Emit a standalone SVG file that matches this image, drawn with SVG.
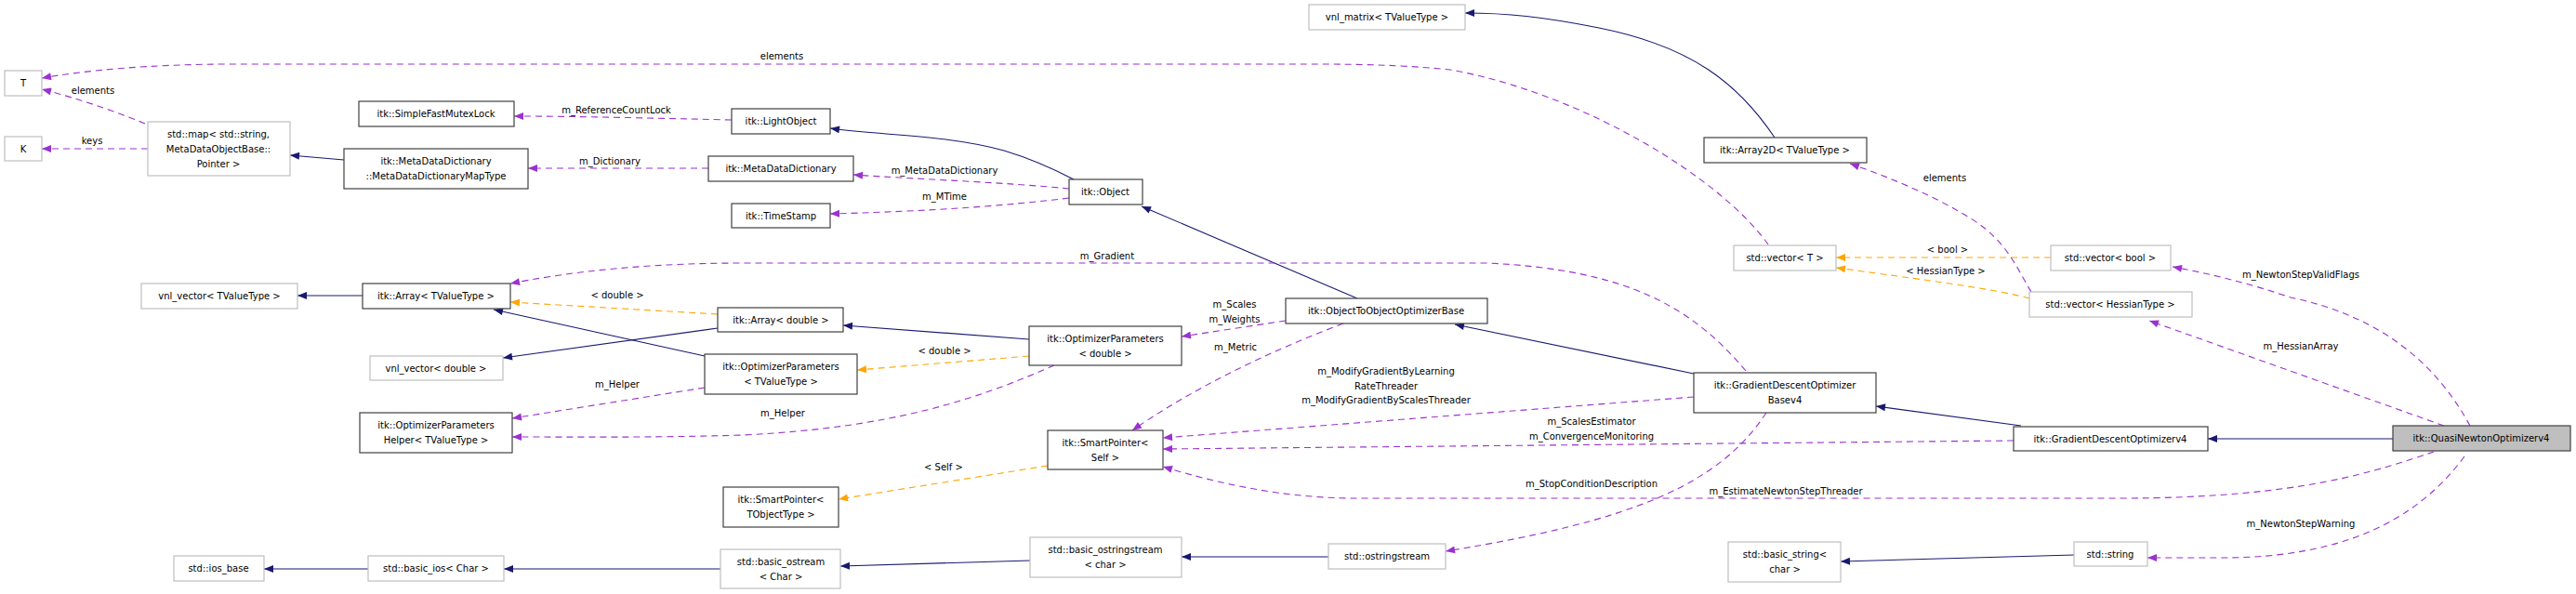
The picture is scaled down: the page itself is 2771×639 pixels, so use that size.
<svg xmlns="http://www.w3.org/2000/svg" width="2771" height="639" viewBox="0 0 2771 639">
<style>
text{font-family:"DejaVu Sans","Liberation Sans",sans-serif;font-size:10px;fill:#000;text-anchor:middle}
.b{fill:#fff;stroke:#404040;stroke-width:1.2}
.g{fill:#fff;stroke:#bfbfbf;stroke-width:1.2}
.q{fill:#bfbfbf;stroke:#404040;stroke-width:1.2}
.s{fill:none;stroke:#191970;stroke-width:1.1}
.p{fill:none;stroke:#9a32cd;stroke-width:1.1;stroke-dasharray:7,5}
.o{fill:none;stroke:#ffa500;stroke-width:1.1;stroke-dasharray:7,5}
</style>
<defs>
<marker id="ms" viewBox="0 0 10 8" refX="10" refY="4" markerWidth="11" markerHeight="8" markerUnits="userSpaceOnUse" orient="auto"><path d="M0,0L10,4L0,8z" fill="#191970"/></marker>
<marker id="mp" viewBox="0 0 10 8" refX="10" refY="4" markerWidth="11" markerHeight="8" markerUnits="userSpaceOnUse" orient="auto"><path d="M0,0L10,4L0,8z" fill="#9a32cd"/></marker>
<marker id="mo" viewBox="0 0 10 8" refX="10" refY="4" markerWidth="11" markerHeight="8" markerUnits="userSpaceOnUse" orient="auto"><path d="M0,0L10,4L0,8z" fill="#ffa500"/></marker>
</defs>
<g id="edges">
<path class="p" marker-end="url(#mp)" d="M1902,263 C1850,190 1700,100 1560,75 C1500,69 1450,69 1400,69 L250,69 C160,69 90,76 45,84"/>
<path class="p" marker-end="url(#mp)" d="M156,133 C120,118 80,105 45,96"/>
<path class="p" marker-end="url(#mp)" d="M159,160 L45,160"/>
<path class="s" marker-end="url(#ms)" d="M370,172 L312,167"/>
<path class="p" marker-end="url(#mp)" d="M787,129 C700,127 620,125 553,125"/>
<path class="p" marker-end="url(#mp)" d="M762,181 L568,181"/>
<path class="s" marker-end="url(#ms)" d="M1155,193 C1130,180 1100,168 1080,162 C1020,145 950,146 893,138"/>
<path class="p" marker-end="url(#mp)" d="M1150,203 C1080,196 990,193 918,188"/>
<path class="p" marker-end="url(#mp)" d="M1150,213 C1060,224 970,228 893,230"/>
<path class="s" marker-end="url(#ms)" d="M1460,321 L1228,222"/>
<path class="s" marker-end="url(#ms)" d="M1822,402 L1565,349"/>
<path class="s" marker-end="url(#ms)" d="M2174,458 L2018,437"/>
<path class="s" marker-end="url(#ms)" d="M2574,472 L2375,472"/>
<path class="s" marker-end="url(#ms)" d="M1909,148 C1870,90 1820,50 1720,30 C1660,18 1620,14 1576,14"/>
<path class="o" marker-end="url(#mo)" d="M2206,277 L1975,277"/>
<path class="o" marker-end="url(#mo)" d="M2183,321 C2150,312 2100,305 1975,288"/>
<path class="p" marker-end="url(#mp)" d="M2657,458 C2620,390 2560,340 2464,320 C2420,305 2380,295 2337,287"/>
<path class="p" marker-end="url(#mp)" d="M2629,458 L2312,345"/>
<path class="p" marker-end="url(#mp)" d="M2185,314 C2170,290 2160,260 2120,235 C2080,210 2030,190 1990,176"/>
<path class="o" marker-end="url(#mo)" d="M772,338 L549,325"/>
<path class="s" marker-end="url(#ms)" d="M758,383 L531,333"/>
<path class="s" marker-end="url(#ms)" d="M772,353 L541,385"/>
<path class="s" marker-end="url(#ms)" d="M390,318 L320,318"/>
<path class="s" marker-end="url(#ms)" d="M1107,365 L907,350"/>
<path class="o" marker-end="url(#mo)" d="M1107,383 L922,398"/>
<path class="p" marker-end="url(#mp)" d="M758,417 L551,450"/>
<path class="p" marker-end="url(#mp)" d="M1134,393 C1050,430 960,460 800,468 C700,471 620,470 551,470"/>
<path class="p" marker-end="url(#mp)" d="M1878,399 C1820,330 1750,290 1600,283 L800,283 C680,283 600,295 549,305"/>
<path class="p" marker-end="url(#mp)" d="M1383,345 L1271,362"/>
<path class="p" marker-end="url(#mp)" d="M1445,348 C1360,380 1280,420 1218,463"/>
<path class="p" marker-end="url(#mp)" d="M1822,427 L1251,471"/>
<path class="p" marker-end="url(#mp)" d="M2166,474 L1251,483"/>
<path class="p" marker-end="url(#mp)" d="M2618,486 C2560,505 2480,536 2280,536 L1460,536 C1380,536 1310,520 1251,502"/>
<path class="o" marker-end="url(#mo)" d="M1127,501 L902,537"/>
<path class="p" marker-end="url(#mp)" d="M1900,444 C1850,520 1760,560 1555,593"/>
<path class="p" marker-end="url(#mp)" d="M2651,491 C2600,560 2520,600 2390,600 L2310,600"/>
<path class="s" marker-end="url(#ms)" d="M1429,599 L1271,599"/>
<path class="s" marker-end="url(#ms)" d="M1108,603 L904,609"/>
<path class="s" marker-end="url(#ms)" d="M775,612 L542,612"/>
<path class="s" marker-end="url(#ms)" d="M396,612 L284,612"/>
<path class="s" marker-end="url(#ms)" d="M2231,597 L1980,604"/>
<text x="841" y="64">elements</text>
<text x="100" y="101">elements</text>
<text x="99" y="155">keys</text>
<text x="663" y="122">m_ReferenceCountLock</text>
<text x="656" y="177">m_Dictionary</text>
<text x="1016" y="187">m_MetaDataDictionary</text>
<text x="1016" y="215">m_MTime</text>
<text x="1191" y="279">m_Gradient</text>
<text x="664" y="321">&lt; double &gt;</text>
<text x="1016" y="381">&lt; double &gt;</text>
<text x="664" y="417">m_Helper</text>
<text x="842" y="448">m_Helper</text>
<text x="1328" y="331">m_Scales</text>
<text x="1328" y="347">m_Weights</text>
<text x="1329" y="377">m_Metric</text>
<text x="1015" y="506">&lt; Self &gt;</text>
<text x="1491" y="403">m_ModifyGradientByLearning</text>
<text x="1491" y="419">RateThreader</text>
<text x="1491" y="434">m_ModifyGradientByScalesThreader</text>
<text x="1712" y="457">m_ScalesEstimator</text>
<text x="1712" y="473">m_ConvergenceMonitoring</text>
<text x="1712" y="524">m_StopConditionDescription</text>
<text x="1921" y="532">m_EstimateNewtonStepThreader</text>
<text x="2095" y="272">&lt; bool &gt;</text>
<text x="2093" y="295">&lt; HessianType &gt;</text>
<text x="2092" y="195">elements</text>
<text x="2475" y="299">m_NewtonStepValidFlags</text>
<text x="2475" y="376">m_HessianArray</text>
<text x="2475" y="567">m_NewtonStepWarning</text>
</g>
<g id="n_T"><rect class="g" x="5" y="76" width="40" height="27"/><text x="25" y="93">T</text></g>
<g id="n_K"><rect class="g" x="5" y="147" width="40" height="26"/><text x="25" y="164">K</text></g>
<g id="n_map"><rect class="g" x="159" y="131" width="153" height="58"/><text x="235" y="148">std::map&lt; std::string,</text><text x="235" y="164">MetaDataObjectBase::</text><text x="235" y="180">Pointer &gt;</text></g>
<g id="n_mutex"><rect class="b" x="386" y="109" width="167" height="27"/><text x="469" y="126">itk::SimpleFastMutexLock</text></g>
<g id="n_maptype"><rect class="b" x="370" y="160" width="198" height="43"/><text x="469" y="177">itk::MetaDataDictionary</text><text x="469" y="193">::MetaDataDictionaryMapType</text></g>
<g id="n_vnlT"><rect class="g" x="152" y="305" width="168" height="27"/><text x="236" y="322">vnl_vector&lt; TValueType &gt;</text></g>
<g id="n_arrT"><rect class="b" x="390" y="305" width="159" height="27"/><text x="469" y="322">itk::Array&lt; TValueType &gt;</text></g>
<g id="n_vnld"><rect class="g" x="398" y="383" width="143" height="26"/><text x="469" y="400">vnl_vector&lt; double &gt;</text></g>
<g id="n_helper"><rect class="b" x="387" y="444" width="164" height="43"/><text x="469" y="461">itk::OptimizerParameters</text><text x="469" y="477">Helper&lt; TValueType &gt;</text></g>
<g id="n_iosbase"><rect class="g" x="187" y="598" width="97" height="27"/><text x="235" y="615">std::ios_base</text></g>
<g id="n_basicios"><rect class="g" x="396" y="598" width="146" height="27"/><text x="469" y="615">std::basic_ios&lt; Char &gt;</text></g>
<g id="n_light"><rect class="b" x="787" y="117" width="106" height="27"/><text x="840" y="134">itk::LightObject</text></g>
<g id="n_mdd"><rect class="b" x="762" y="168" width="156" height="27"/><text x="840" y="185">itk::MetaDataDictionary</text></g>
<g id="n_ts"><rect class="b" x="787" y="219" width="106" height="26"/><text x="840" y="236">itk::TimeStamp</text></g>
<g id="n_obj"><rect class="b" x="1150" y="193" width="79" height="27"/><text x="1189" y="210">itk::Object</text></g>
<g id="n_arrd"><rect class="b" x="772" y="331" width="135" height="26"/><text x="840" y="348">itk::Array&lt; double &gt;</text></g>
<g id="n_opT"><rect class="b" x="758" y="381" width="164" height="43"/><text x="840" y="398">itk::OptimizerParameters</text><text x="840" y="414">&lt; TValueType &gt;</text></g>
<g id="n_opd"><rect class="b" x="1107" y="351" width="164" height="42"/><text x="1189" y="368">itk::OptimizerParameters</text><text x="1189" y="384">&lt; double &gt;</text></g>
<g id="n_spself"><rect class="b" x="1127" y="463" width="124" height="42"/><text x="1189" y="480">itk::SmartPointer&lt;</text><text x="1189" y="496">Self &gt;</text></g>
<g id="n_spT"><rect class="b" x="778" y="524" width="124" height="43"/><text x="840" y="541">itk::SmartPointer&lt;</text><text x="840" y="557">TObjectType &gt;</text></g>
<g id="n_ostream"><rect class="g" x="775" y="591" width="129" height="42"/><text x="840" y="608">std::basic_ostream</text><text x="840" y="624">&lt; Char &gt;</text></g>
<g id="n_bos"><rect class="g" x="1108" y="578" width="163" height="43"/><text x="1189" y="595">std::basic_ostringstream</text><text x="1189" y="611">&lt; char &gt;</text></g>
<g id="n_vnlm"><rect class="g" x="1408" y="5" width="168" height="27"/><text x="1492" y="22">vnl_matrix&lt; TValueType &gt;</text></g>
<g id="n_arr2d"><rect class="b" x="1833" y="148" width="175" height="27"/><text x="1920" y="165">itk::Array2D&lt; TValueType &gt;</text></g>
<g id="n_vecT"><rect class="g" x="1865" y="264" width="110" height="27"/><text x="1920" y="281">std::vector&lt; T &gt;</text></g>
<g id="n_o2o"><rect class="b" x="1383" y="321" width="217" height="27"/><text x="1491" y="338">itk::ObjectToObjectOptimizerBase</text></g>
<g id="n_gdb"><rect class="b" x="1822" y="401" width="196" height="43"/><text x="1920" y="418">itk::GradientDescentOptimizer</text><text x="1920" y="434">Basev4</text></g>
<g id="n_oss"><rect class="g" x="1429" y="585" width="126" height="27"/><text x="1492" y="602">std::ostringstream</text></g>
<g id="n_bstr"><rect class="g" x="1859" y="583" width="121" height="43"/><text x="1920" y="600">std::basic_string&lt;</text><text x="1920" y="616">char &gt;</text></g>
<g id="n_vecb"><rect class="g" x="2206" y="264" width="129" height="27"/><text x="2270" y="281">std::vector&lt; bool &gt;</text></g>
<g id="n_vech"><rect class="g" x="2183" y="314" width="175" height="27"/><text x="2270" y="331">std::vector&lt; HessianType &gt;</text></g>
<g id="n_gd"><rect class="b" x="2166" y="459" width="209" height="26"/><text x="2270" y="476">itk::GradientDescentOptimizerv4</text></g>
<g id="n_quasi"><rect class="q" x="2574" y="458" width="191" height="27"/><text x="2669" y="475">itk::QuasiNewtonOptimizerv4</text></g>
<g id="n_str"><rect class="g" x="2231" y="583" width="79" height="26"/><text x="2270" y="600">std::string</text></g>
</svg>
